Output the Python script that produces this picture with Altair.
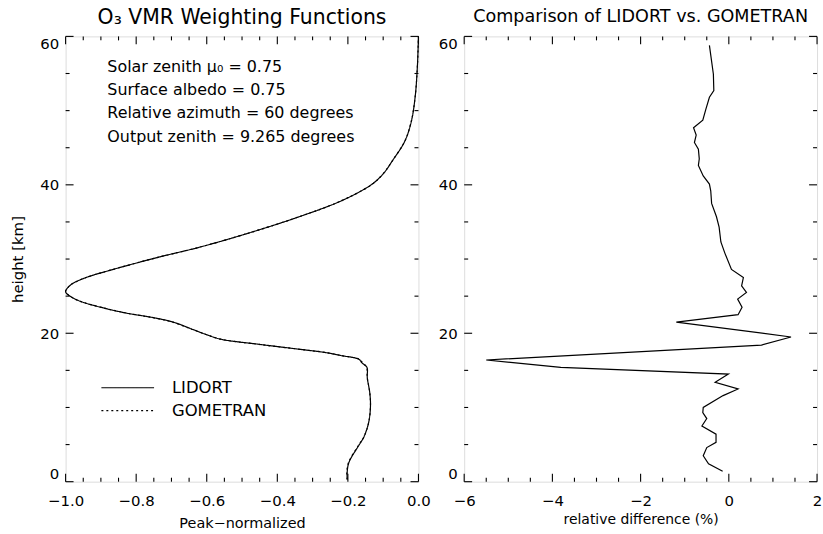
import altair as alt
import pandas as pd

# ---------------- data ----------------
# Left panel: peak-normalized O3 VMR weighting functions (height km, value)
lid_height = [0.3, 1.3, 2.6, 4.9, 6.0, 8.0, 10.2, 12.0, 14.0, 15.4, 16.0, 16.5, 17.0, 17.4,
              17.8, 18.5, 19.2, 19.8, 20.5, 21.5, 22.1, 22.7, 23.4, 24.3, 24.95, 25.6,
              26.5, 27.4, 28.5, 30.3, 31.6, 33.4, 35.7, 37.9, 40.1, 41.6, 43.3, 45.9, 48.6,
              52.0, 56.0, 60.0]
lid_value = [-0.202, -0.202, -0.197, -0.169, -0.155, -0.141, -0.136, -0.138, -0.145, -0.146,
             -0.160, -0.169, -0.220, -0.263, -0.330, -0.450, -0.560, -0.600, -0.639, -0.695,
             -0.751, -0.826, -0.892, -0.958, -0.986, -1.000, -0.986, -0.948, -0.873, -0.732,
             -0.620, -0.488, -0.338, -0.216, -0.131, -0.098, -0.073, -0.0385, -0.020, -0.009,
             -0.003, 0.000]
gom_height = [0.3, 1.3, 2.6, 4.9, 6.0, 8.0, 10.2, 12.0, 14.0, 15.4, 16.0, 16.5, 17.0, 17.4,
              17.8, 18.5, 19.2, 19.8, 20.5, 21.5, 22.1, 22.7, 23.4, 24.3, 24.95, 25.6,
              26.5, 27.4, 28.5, 30.3, 31.6, 33.4, 35.7, 37.9, 40.1, 41.6, 43.3, 45.9, 48.6,
              52.0, 56.0, 60.0]
gom_value = [-0.202, -0.203, -0.198, -0.170, -0.155, -0.141, -0.136, -0.138, -0.145, -0.147,
             -0.158, -0.168, -0.219, -0.262, -0.330, -0.452, -0.561, -0.600, -0.640, -0.697,
             -0.752, -0.826, -0.891, -0.958, -0.986, -1.000, -0.986, -0.948, -0.873, -0.732,
             -0.620, -0.488, -0.338, -0.216, -0.131, -0.098, -0.073, -0.0385, -0.020, -0.009,
             -0.003, 0.000]

# Right panel: relative difference LIDORT vs GOMETRAN (%)
diff_height = [1.4, 2.4, 3.5, 4.6, 5.3, 6.4, 7.5, 8.5, 9.3, 10.0, 11.6, 12.5, 13.4, 14.5,
               15.4, 16.4, 18.4, 19.5, 21.5, 22.5, 23.5, 24.6, 25.5, 26.4, 27.5, 28.6,
               30.8, 32.3, 34.3, 35.7, 37.5, 39.2, 40.1, 41.2, 42.6, 43.5, 44.8, 45.7,
               46.7, 47.7, 48.7, 50.2, 51.8, 52.7, 54.9, 58.8]
diff_value = [-0.14, -0.46, -0.58, -0.50, -0.29, -0.29, -0.61, -0.50, -0.59, -0.58, -0.13,
              0.21, -0.31, -0.01, -3.81, -5.50, 0.74, 1.41, -1.19, 0.21, 0.30, 0.20, 0.40,
              0.29, 0.33, 0.06, -0.09, -0.18, -0.22, -0.28, -0.39, -0.41, -0.44, -0.58,
              -0.69, -0.67, -0.69, -0.78, -0.74, -0.80, -0.59, -0.52, -0.44, -0.34, -0.35,
              -0.44]

# tick values
left_x_major = [-1.0, -0.8, -0.6, -0.4, -0.2, 0.0]
left_x_minor = [-0.95, -0.9, -0.85, -0.75, -0.7, -0.65, -0.55, -0.5, -0.45,
                -0.35, -0.3, -0.25, -0.15, -0.1, -0.05]
right_x_major = [-6, -4, -2, 0, 2]
right_x_minor = [-5.5, -5, -4.5, -3.5, -3, -2.5, -1.5, -1, -0.5, 0.5, 1, 1.5]
y_major = [0, 20, 40, 60]
y_minor = [5, 10, 15, 25, 30, 35, 45, 50, 55]

annotation = ["Solar zenith μ₀ = 0.75", "Surface albedo = 0.75",
              "Relative azimuth = 60 degrees", "Output zenith = 9.265 degrees"]
series_names = ["LIDORT", "GOMETRAN"]

# ---------------- layout constants ----------------
W, H = 355, 448
FONT = "DejaVu Sans"
MAJ, MIN = 8, 4

wf = pd.concat([
    pd.DataFrame({"height": lid_height, "value": lid_value, "series": "LIDORT"}),
    pd.DataFrame({"height": gom_height, "value": gom_value, "series": "GOMETRAN"}),
])
diff = pd.DataFrame({"height": diff_height, "value": diff_value})


def tick_layers(xmaj, xmin, xscale, ymaj, ymin, yscale):
    layers = []
    for vals, ln in ((xmaj, MAJ), (xmin, MIN)):
        d = pd.DataFrame({"t": vals})
        layers.append(alt.Chart(d).mark_rule(color="black", strokeWidth=1.1).encode(
            x=alt.X("t:Q", scale=xscale), y=alt.value(H), y2=alt.value(H - ln)))
        layers.append(alt.Chart(d).mark_rule(color="black", strokeWidth=1.1).encode(
            x=alt.X("t:Q", scale=xscale), y=alt.value(0), y2=alt.value(ln)))
    for vals, ln in ((ymaj, MAJ), (ymin, MIN)):
        d = pd.DataFrame({"t": vals})
        layers.append(alt.Chart(d).mark_rule(color="black", strokeWidth=1.1).encode(
            y=alt.Y("t:Q", scale=yscale), x=alt.value(0), x2=alt.value(ln)))
        layers.append(alt.Chart(d).mark_rule(color="black", strokeWidth=1.1).encode(
            y=alt.Y("t:Q", scale=yscale), x=alt.value(W), x2=alt.value(W - ln)))
    return layers


axis_common = dict(grid=False, domain=False, ticks=False, tickSize=0,
                   labelFont=FONT, labelFontSize=15, labelColor="black",
                   titleFont=FONT, titleColor="black", titleFontWeight="normal")

lx_scale = alt.Scale(domain=[-1.0, 0.0], nice=False, zero=False)
ly_scale = alt.Scale(domain=[0, 60], nice=False)
rx_scale = alt.Scale(domain=[-6, 2], nice=False, zero=False)

left_lines = alt.Chart(wf).mark_line(color="black", strokeWidth=1.2,
                                     interpolate="catmull-rom").encode(
    x=alt.X("value:Q", scale=lx_scale,
            axis=alt.Axis(values=left_x_major, format=".1f", title="Peak−normalized",
                          titleFontSize=14.5, labelPadding=12, titlePadding=8,
                          labelFlush=False, **axis_common)),
    y=alt.Y("height:Q", scale=ly_scale,
            axis=alt.Axis(values=y_major, title="height [km]", titleFontSize=15,
                          labelPadding=7, titlePadding=14, labelFlush=True,
                          **axis_common)),
    order=alt.Order("height:Q"),
    strokeDash=alt.StrokeDash(
        "series:N",
        scale=alt.Scale(domain=series_names, range=[[1, 0], [2, 3]]),
        legend=alt.Legend(title=None, orient="none", legendX=35, legendY=342,
                          symbolType="stroke", symbolSize=2809, symbolStrokeWidth=1.2,
                          symbolStrokeColor="black", labelFont=FONT, labelFontSize=16.5,
                          labelColor="black", labelOffset=17, rowPadding=0,
                          clipHeight=23)),
)

annot = alt.Chart(pd.DataFrame({"a": [0]})).mark_text(
    align="left", baseline="top", font=FONT, fontSize=16, lineHeight=23.3, color="black"
).encode(x=alt.value(42), y=alt.value(23), text=alt.value(annotation))

left = alt.layer(left_lines, annot,
                 *tick_layers(left_x_major, left_x_minor, lx_scale, y_major, y_minor, ly_scale)
                 ).properties(
    width=W, height=H,
    title=alt.Title("O₃ VMR Weighting Functions", font=FONT, fontSize=20.5,
                    fontWeight="normal", color="black", offset=6))

right_line = alt.Chart(diff).mark_line(color="black", strokeWidth=1.2).encode(
    x=alt.X("value:Q", scale=rx_scale,
            axis=alt.Axis(values=right_x_major, format="d", title="relative difference (%)",
                          titleFontSize=14, labelPadding=12, titlePadding=4,
                          labelFlush=False, **axis_common)),
    y=alt.Y("height:Q", scale=ly_scale,
            axis=alt.Axis(values=y_major, title=None, labelPadding=7, labelFlush=True,
                          **axis_common)),
    order=alt.Order("height:Q"),
)

right = alt.layer(right_line,
                  *tick_layers(right_x_major, right_x_minor, rx_scale, y_major, y_minor, ly_scale)
                  ).properties(
    width=W, height=H,
    title=alt.Title("Comparison of LIDORT vs. GOMETRAN", font=FONT, fontSize=17.7,
                    fontWeight="normal", color="black", offset=10))

chart = alt.hconcat(left, right, spacing=46, bounds="flush").properties(
    padding={"left": 10, "top": 5, "right": 0, "bottom": 0}
).configure_view(stroke="black", strokeWidth=1.3).configure(background="white")

chart.save("out.html", embed_options={"renderer": "svg", "actions": False})
